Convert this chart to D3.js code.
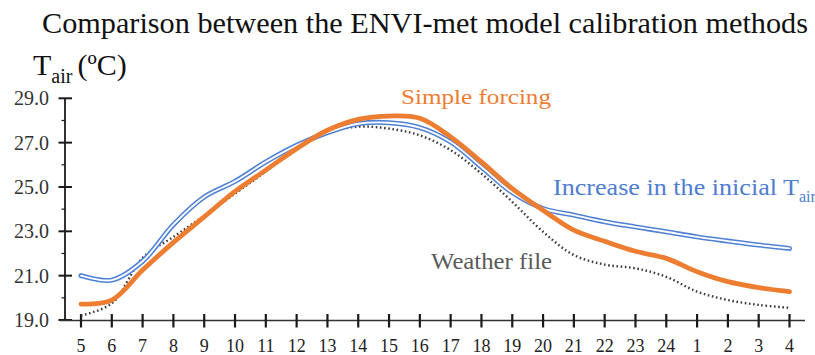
<!DOCTYPE html>
<html>
<head>
<meta charset="utf-8">
<script src="https://cdn.jsdelivr.net/npm/d3@7"></script>
<style>
  svg text, svg tspan { font-family: "Liberation Serif", "Times New Roman", serif !important; }
</style>
</head>
<body style="margin:0">
<svg id="fig" width="815" height="355"></svg>
<script>
// ---- data ----
const hours = ["5","6","7","8","9","10","11","12","13","14","15","16","17","18","19","20","21","22","23","24","1","2","3","4"];
const weatherFile   = [19.2, 19.75, 21.8, 22.75, 23.7, 24.7, 25.7, 26.75, 27.45, 27.72, 27.63, 27.33, 26.66, 25.6, 24.33, 22.98, 21.93, 21.5, 21.33, 20.95, 20.28, 19.9, 19.68, 19.55];
const simpleForcing = [19.72, 19.9, 21.25, 22.5, 23.65, 24.8, 25.76, 26.73, 27.56, 28.05, 28.2, 28.1, 27.26, 26.13, 24.93, 23.95, 23.05, 22.55, 22.1, 21.78, 21.18, 20.73, 20.46, 20.28];
const increaseTair  = [21.0, 20.8, 21.65, 23.3, 24.55, 25.25, 26.13, 26.88, 27.45, 27.85, 27.9, 27.68, 27.03, 25.9, 24.75, 24.03, 23.73, 23.43, 23.2, 22.98, 22.75, 22.56, 22.38, 22.23];
const yMajorTicks = [19, 21, 23, 25, 27, 29];
const yMinorTicks = [20, 22, 24, 26, 28];
const titleText = "Comparison between the ENVI-met model calibration methods";

// ---- layout ----
const FONT = "Liberation Serif";
const svg = d3.select("#fig");
const x = d3.scalePoint().domain(hours).range([81, 789.5]);
const y = d3.scaleLinear().domain([19, 29]).range([320, 98.3]);
const axisColor = "#1a1a1a";

function T(sel) { return sel.attr("font-family", FONT).style("font-family", "'Liberation Serif', serif", "important"); }

// title
T(svg.append("text"))
  .attr("x", 42).attr("y", 33)
  .attr("font-size", 30).attr("fill", "#111")
  .attr("textLength", 766).attr("lengthAdjust", "spacingAndGlyphs")
  .text(titleText);

// y axis title
const yt = T(svg.append("text")).attr("x", 33).attr("y", 75).attr("fill", "#111").attr("font-size", 30);
yt.append("tspan").text("T");
yt.append("tspan").attr("font-size", 20).attr("dy", 8).text("air");
yt.append("tspan").attr("dy", -8).attr("dx", 5).text("(\u00BAC)");

// y axis
const yAxisG = svg.append("g");
yAxisG.append("line").attr("x1", 65).attr("x2", 65).attr("y1", y(29)).attr("y2", y(19))
  .attr("stroke", axisColor).attr("stroke-width", 1.8);
yAxisG.selectAll(".maj").data(yMajorTicks).join("line")
  .attr("class", "maj")
  .attr("x1", 58.5).attr("x2", 72).attr("y1", d => y(d)).attr("y2", d => y(d))
  .attr("stroke", axisColor).attr("stroke-width", 2);
yAxisG.selectAll(".min").data(yMinorTicks).join("line")
  .attr("class", "min")
  .attr("x1", 61.5).attr("x2", 65).attr("y1", d => y(d)).attr("y2", d => y(d))
  .attr("stroke", axisColor).attr("stroke-width", 1.2);
T(yAxisG.selectAll(".lab").data(yMajorTicks).join("text"))
  .attr("class", "lab")
  .attr("x", 49).attr("y", d => y(d)).attr("dy", "0.35em")
  .attr("text-anchor", "end").attr("font-size", 20).attr("fill", "#333")
  .text(d => d3.format(".1f")(d));

// x axis
const xAxisG = svg.append("g");
xAxisG.append("line").attr("x1", 60).attr("x2", 805).attr("y1", 320.5).attr("y2", 320.5)
  .attr("stroke", "#333").attr("stroke-width", 1.4);
xAxisG.selectAll(".xt").data(hours).join("line")
  .attr("class", "xt")
  .attr("x1", d => x(d)).attr("x2", d => x(d)).attr("y1", 314).attr("y2", 327.5)
  .attr("stroke", axisColor).attr("stroke-width", 2.2);
T(xAxisG.selectAll(".xl").data(hours).join("text"))
  .attr("class", "xl")
  .attr("x", d => x(d)).attr("y", 352)
  .attr("text-anchor", "middle").attr("font-size", 18).attr("fill", "#222")
  .text(d => d);

// lines
const line = d3.line().x((d, i) => x(hours[i])).y(d => y(d)).curve(d3.curveCatmullRom.alpha(0.5));

svg.append("path").datum(weatherFile).attr("d", line)
  .attr("fill", "none").attr("stroke", "#3d3d3d").attr("stroke-width", 2.4)
  .attr("stroke-dasharray", "1.6 2.6");

svg.append("path").datum(increaseTair).attr("d", line)
  .attr("fill", "none").attr("stroke", "#5081d4").attr("stroke-width", 5)
  .attr("stroke-linecap", "round");
svg.append("path").datum(increaseTair).attr("d", line)
  .attr("fill", "none").attr("stroke", "#ffffff").attr("stroke-width", 1.9)
  .attr("stroke-linecap", "round");

svg.append("path").datum(simpleForcing).attr("d", line)
  .attr("fill", "none").attr("stroke", "#ED7D31").attr("stroke-width", 4.8)
  .attr("stroke-linecap", "round");

// annotations
T(svg.append("text")).attr("x", 401).attr("y", 104)
  .attr("font-size", 22).attr("fill", "#ED7D31")
  .attr("textLength", 150).attr("lengthAdjust", "spacingAndGlyphs")
  .text("Simple forcing");

const inc = T(svg.append("text")).attr("x", 553).attr("y", 195)
  .attr("font-size", 23).attr("fill", "#4f7dd0");
inc.append("tspan").attr("textLength", 246).attr("lengthAdjust", "spacingAndGlyphs").text("Increase in the inicial T");
inc.append("tspan").attr("font-size", 16).attr("dy", 7).text("air");

T(svg.append("text")).attr("x", 431).attr("y", 269)
  .attr("font-size", 23).attr("fill", "#5a5a5a")
  .attr("textLength", 121).attr("lengthAdjust", "spacingAndGlyphs")
  .text("Weather file");
</script>
</body>
</html>
